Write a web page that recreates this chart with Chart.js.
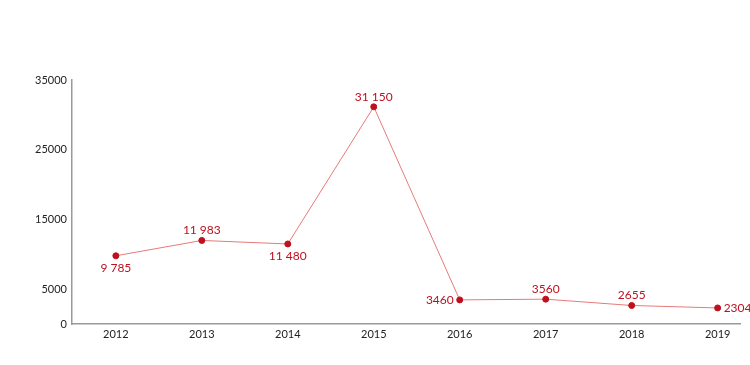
<!DOCTYPE html>
<html>
<head>
<meta charset="utf-8">
<script src="https://cdn.jsdelivr.net/npm/chart.js@4"></script>
<style>
  html, body { margin: 0; padding: 0; background: #fff; }
  #wrap { width: 750px; height: 365px; }
</style>
</head>
<body>
<div id="wrap"><canvas id="myChart" width="750" height="365"></canvas></div>
<script>
// chart data
const years = [2012, 2013, 2014, 2015, 2016, 2017, 2018, 2019];
const values = [9785, 11983, 11480, 31150, 3460, 3560, 2655, 2304];
const valueLabels = ["9 785", "11 983", "11 480", "31 150", "3460", "3560", "2655", "2304"];
const labelSide = ["below", "above", "below", "above", "left", "above", "above", "right"];
const yTicks = [0, 5000, 15000, 25000, 35000];

const red = "#c0101e";
const lineRed = "#e77a7a";
const axisGray = "#9a9a9a";
const fontFamily = "Lato, 'Open Sans', sans-serif";

// draws the value next to each point
const valueLabelPlugin = {
  id: "valueLabels",
  afterDatasetsDraw(chart) {
    const ctx = chart.ctx;
    const meta = chart.getDatasetMeta(0);
    ctx.save();
    ctx.fillStyle = red;
    ctx.font = "12px " + fontFamily;
    meta.data.forEach((pt, i) => {
      const side = labelSide[i];
      let x = pt.x, y = pt.y;
      ctx.textBaseline = "middle";
      ctx.textAlign = "center";
      if (side === "above") y -= 10;
      else if (side === "below") y += 12;
      else if (side === "left") { ctx.textAlign = "right"; x -= 6; }
      else if (side === "right") { ctx.textAlign = "left"; x += 6; }
      ctx.fillText(valueLabels[i], x, y);
    });
    ctx.restore();
  }
};

const ctx = document.getElementById("myChart").getContext("2d");
new Chart(ctx, {
  type: "line",
  data: {
    datasets: [{
      data: years.map((yr, i) => ({ x: yr, y: values[i] })),
      borderColor: lineRed,
      borderWidth: 1,
      pointBackgroundColor: red,
      pointBorderColor: red,
      pointRadius: 3,
      fill: false,
      tension: 0
    }]
  },
  options: {
    responsive: false,
    animation: false,
    layout: { padding: { top: 80, right: 10, left: 0, bottom: 0 } },
    plugins: {
      legend: { display: false },
      tooltip: { enabled: false }
    },
    scales: {
      x: {
        type: "linear",
        min: 2011.49,
        max: 2019.26,
        grid: { display: false, drawTicks: false },
        border: { display: true, color: axisGray, width: 1.5 },
        afterBuildTicks: (scale) => { scale.ticks = years.map(v => ({ value: v })); },
        afterFit: (scale) => { scale.height = 41; },
        ticks: {
          color: "#222",
          font: { family: fontFamily, size: 11 },
          padding: 4,
          maxRotation: 0,
          callback: (v) => String(v)
        }
      },
      y: {
        min: 0,
        max: 35000,
        grid: { display: false, drawTicks: false },
        border: { display: true, color: axisGray, width: 1.5 },
        afterBuildTicks: (scale) => { scale.ticks = yTicks.map(v => ({ value: v })); },
        afterFit: (scale) => { scale.width = 72; },
        ticks: {
          color: "#222",
          font: { family: fontFamily, size: 11 },
          padding: 5,
          callback: (v) => String(v)
        }
      }
    }
  },
  plugins: [valueLabelPlugin]
});
</script>
</body>
</html>
